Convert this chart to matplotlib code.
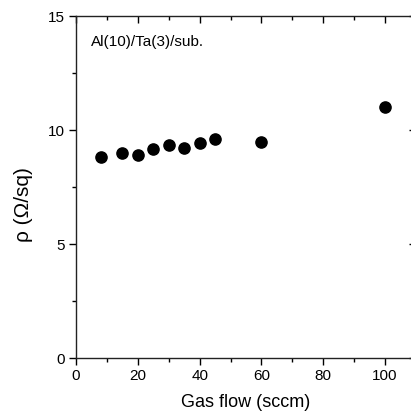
import matplotlib.pyplot as plt
from matplotlib.ticker import MultipleLocator

plt.rcParams['font.family'] = ['Liberation Sans', 'DejaVu Sans']

# gas flow (sccm) and sheet resistance (ohm/sq)
gas_flow = [8, 15, 20, 25, 30, 35, 40, 45, 60, 100]
rho = [8.82, 8.98, 8.89, 9.15, 9.33, 9.21, 9.45, 9.59, 9.48, 11.0]

fig = plt.figure(figsize=(4.11, 4.16), dpi=100)
ax = fig.add_axes([76 / 411, 1 - 358 / 416, 340 / 411, 342 / 416])

ax.scatter(gas_flow, rho, s=65, color='black', zorder=3)

ax.set_xlim(0, 110)
ax.set_ylim(0, 15)
ax.xaxis.set_major_locator(MultipleLocator(20))
ax.xaxis.set_minor_locator(MultipleLocator(10))
ax.yaxis.set_major_locator(MultipleLocator(5))
ax.yaxis.set_minor_locator(MultipleLocator(2.5))

ax.tick_params(which='both', direction='out', labelsize=11, pad=3)
ax.tick_params(which='major', length=5, width=1)
ax.tick_params(which='minor', length=3, width=1)
ax.tick_params(which='both', top=True, right=True)
for spine in ax.spines.values():
    spine.set_linewidth(1)
    spine.set_color('#222222')

# top/right ticks point inward
for t in ax.xaxis.get_major_ticks() + ax.xaxis.get_minor_ticks():
    t.tick2line.set_marker(3)
for t in ax.yaxis.get_major_ticks() + ax.yaxis.get_minor_ticks():
    t.tick2line.set_marker(0)

ax.set_xlabel('Gas flow (sccm)', fontsize=13, labelpad=8)
ax.set_ylabel('ρ (Ω/sq)', fontsize=15, labelpad=4)
ax.yaxis.set_label_coords(-0.126, 0.45)

ax.text(0.044, 0.925, 'Al(10)/Ta(3)/sub.', transform=ax.transAxes,
        fontsize=11, va='center', ha='left')

fig.savefig('out.png', dpi=100)
